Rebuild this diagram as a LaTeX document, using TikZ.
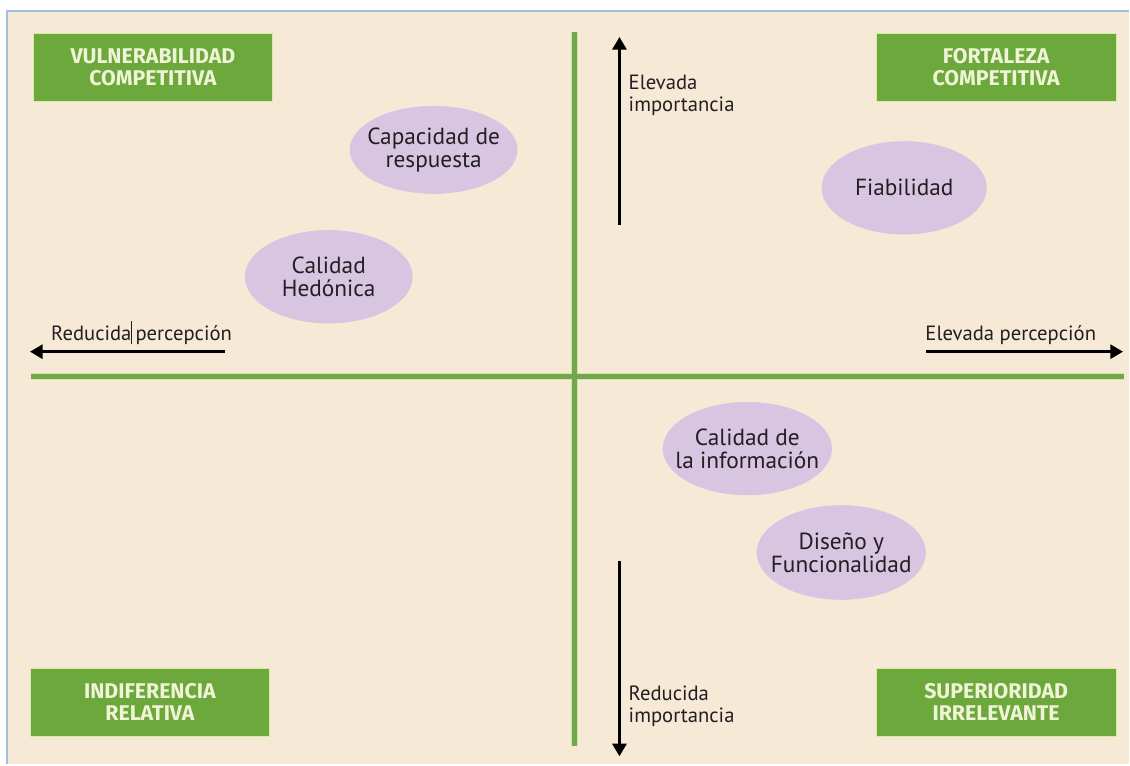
\documentclass[tikz,border=0pt]{standalone}
\usepackage{fontspec}
\setmainfont{PT Sans}
\newfontfamily\cajafont{Fira Sans}
\usepackage{tikz}
\usetikzlibrary{shapes.geometric,arrows.meta}

\definecolor{fondo}{RGB}{246,234,214}
\definecolor{marco}{RGB}{160,190,228}
\definecolor{verdecaja}{RGB}{108,168,60}
\definecolor{bordecaja}{RGB}{214,234,170}
\definecolor{textocaja}{RGB}{240,244,214}
\definecolor{verdeeje}{RGB}{116,166,80}
\definecolor{haloeje}{RGB}{206,232,160}
\definecolor{lila}{RGB}{216,197,226}
\definecolor{tinta}{RGB}{34,30,34}

\tikzset{
  quadbox/.style={rectangle, fill=verdecaja, draw=bordecaja, line width=0.6pt,
    minimum width=180pt, minimum height=51pt, inner sep=0pt, align=center,
    text=textocaja, font=\cajafont\bfseries\fontsize{16}{16.5}\selectfont},
  attrell/.style={ellipse, fill=lila, inner xsep=-24pt, inner ysep=-10pt, align=center, text=tinta,
    font=\fontsize{17.5}{17.5}\selectfont},
  axlabel/.style={inner sep=0.75pt, align=left, text=tinta,
    font=\fontsize{15.5}{16.5}\selectfont},
  axisline/.style={line width=3.6pt, color=verdeeje},
  axishalo/.style={line width=5.4pt, color=haloeje},
  dirarrow/.style={line width=2.2pt, black, -{Triangle[length=9.5pt,width=10.5pt]}}
}

\begin{document}
\begin{tikzpicture}[x=0.75pt,y=0.75pt,yscale=-1,xscale=1]
        \path (0,0) rectangle (1130,765);

        %Shape: Rectangle (background)
        \fill [fondo] (8,12) rectangle (1130,765);
        \draw [marco, line width=1.5pt] (7,765) -- (7,11) -- (1130,11);

        % Axis ends
        \coordinate (vTop) at (575,32);
        \coordinate (vBot) at (575,747);
        \coordinate (hLeft) at (31,377);
        \coordinate (hRight) at (1125,377);

        %Straight Lines (axes)
        \draw [axishalo] (vTop) -- (vBot);
        \draw [axishalo] (hLeft) -- (hRight);
        \draw [axisline] (vTop) -- (vBot);
        \draw [axisline] (hLeft) -- (hRight);

        % Arrow ends
        \coordinate (upStart) at (620,225);
        \coordinate (upEnd) at (620,37);
        \coordinate (downStart) at (620,561);
        \coordinate (downEnd) at (620,757);
        \coordinate (leftStart) at (225,352);
        \coordinate (leftEnd) at (30,352);
        \coordinate (rightStart) at (927,352);
        \coordinate (rightEnd) at (1124,352);

        %Straight Lines (arrows)
        \draw [dirarrow] (upStart) -- (upEnd);
        \draw [dirarrow] (downStart) -- (downEnd);
        \draw [dirarrow] (leftStart) -- (leftEnd);
        \draw [dirarrow] (rightStart) -- (rightEnd);

        %Shape: Rectangle
        \node [quadbox] (vulnerab) at (153,67) {VULNERABILIDAD\\COMPETITIVA};
        %Shape: Rectangle
        \node [quadbox] (fortaleza) at (997,67) {FORTALEZA\\COMPETITIVA};
        %Shape: Rectangle
        \node [quadbox] (indifer) at (150,703) {INDIFERENCIA\\RELATIVA};
        %Shape: Rectangle
        \node [quadbox] (superior) at (997,703) {SUPERIORIDAD\\IRRELEVANTE};

        %Shape: Ellipse
        \node [attrell, minimum width=126pt, minimum height=66pt] (capResp) at (434,150) {Capacidad de\\respuesta};
        %Shape: Ellipse
        \node [attrell, minimum width=126pt, minimum height=70pt] (calHed) at (329,277) {Calidad\\Hedónica};
        %Shape: Ellipse
        \node [attrell, minimum width=124pt, minimum height=70pt] (fiab) at (905,188) {Fiabilidad};
        %Shape: Ellipse
        \node [attrell, minimum width=127pt, minimum height=70pt] (calInfo) at (748,449) {Calidad de\\la información};
        %Shape: Ellipse
        \node [attrell, minimum width=127pt, minimum height=71pt] (disFunc) at (842,553) {Diseño y\\Funcionalidad};

        % Text Node
        \node [axlabel, anchor=north west] (elevImp) at (628,74) {Elevada\\importancia};
        % Text Node
        \node [axlabel, anchor=north west] (reduImp) at (628,685) {Reducida\\importancia};
        % Text Node
        \node [axlabel, anchor=north west] (reduPer) at (50,325) {Reducida\smash{\rule[-0.35ex]{0.5pt}{2.3ex}}\,percepción};
        % Text Node
        \node [axlabel, anchor=north west] (elevPer) at (925,325) {Elevada percepción};

    \end{tikzpicture}
\end{document}
